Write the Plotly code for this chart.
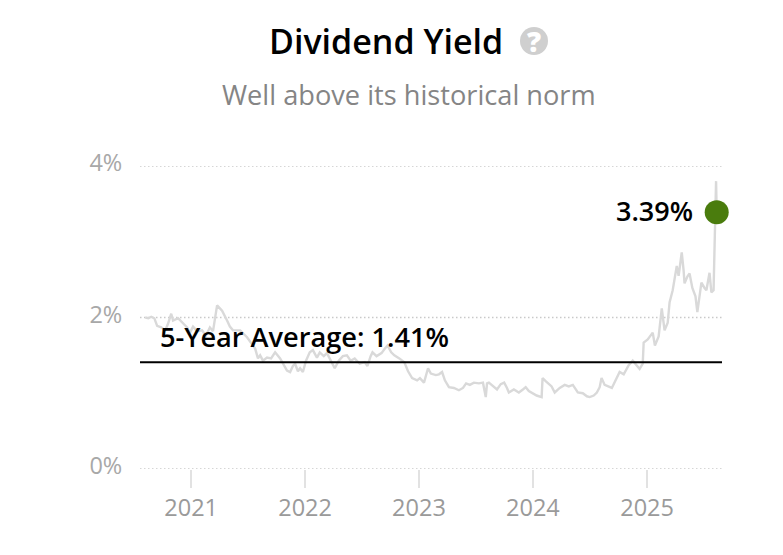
import plotly.graph_objects as go

dates = """2020-08-07 2020-08-17 2020-08-26 2020-09-05 2020-09-14 2020-09-27 2020-10-10 2020-10-19 2020-10-29 2020-11-04
2020-11-20 2020-12-06 2020-12-19 2020-12-28 2021-01-07 2021-01-20 2021-02-05 2021-02-17 2021-03-02 2021-03-12
2021-03-18 2021-03-25 2021-04-03 2021-04-10 2021-04-26 2021-05-05 2021-05-15 2021-06-07 2021-06-29 2021-07-12
2021-07-25 2021-08-03 2021-08-10 2021-08-19 2021-09-01 2021-09-14 2021-09-27 2021-10-13 2021-10-26 2021-11-04
2021-11-14 2021-11-23 2021-11-30 2021-12-09 2021-12-16 2021-12-25 2022-01-04 2022-01-16 2022-01-26 2022-02-08
2022-02-17 2022-03-02 2022-03-12 2022-03-24 2022-04-06 2022-04-19 2022-05-02 2022-05-15 2022-05-27 2022-06-09
2022-06-25 2022-07-11 2022-07-20 2022-07-30 2022-08-05 2022-08-18 2022-09-03 2022-09-12 2022-09-22 2022-10-04
2022-10-14 2022-10-30 2022-11-15 2022-11-27 2022-12-10 2022-12-26 2023-01-04 2023-01-17 2023-01-30 2023-02-08
2023-02-24 2023-03-06 2023-03-16 2023-03-25 2023-04-07 2023-04-23 2023-05-09 2023-05-22 2023-06-01 2023-06-13
2023-06-26 2023-07-12 2023-07-25 2023-08-03 2023-08-07 2023-08-13 2023-08-26 2023-09-08 2023-09-20 2023-10-01
2023-10-10 2023-10-16 2023-11-01 2023-11-17 2023-11-30 2023-12-09 2023-12-19 2024-01-01 2024-01-13 2024-01-29
2024-02-01 2024-02-11 2024-02-17 2024-03-01 2024-03-11 2024-03-27 2024-04-12 2024-04-25 2024-05-08 2024-05-24
2024-06-09 2024-06-22 2024-07-01 2024-07-14 2024-07-24 2024-08-02 2024-08-08 2024-08-18 2024-09-10 2024-09-22
2024-10-05 2024-10-18 2024-11-03 2024-11-16 2024-11-28 2024-12-08 2024-12-18 2024-12-21 2025-01-03 2025-01-19
2025-01-26 2025-02-07 2025-02-17 2025-02-26 2025-03-08 2025-03-14 2025-03-24 2025-03-30 2025-04-06 2025-04-12
2025-04-22 2025-04-28 2025-05-01 2025-05-10 2025-05-17 2025-05-26 2025-06-05 2025-06-11 2025-06-18 2025-06-24
2025-07-04 2025-07-10 2025-07-20 2025-07-26 2025-08-02 2025-08-06 2025-08-10 2025-08-12""".split()

yield_pct = [
    2.00, 1.99, 2.01, 1.99, 1.89, 1.87, 1.83, 1.92, 2.05, 1.96,
    1.99, 1.92, 1.87, 1.80, 1.88, 1.82, 1.83, 1.76, 1.87, 1.82,
    1.96, 2.16, 2.12, 2.09, 1.96, 1.88, 1.83, 1.83, 1.74, 1.67,
    1.59, 1.46, 1.50, 1.43, 1.47, 1.46, 1.54, 1.46, 1.37, 1.30,
    1.28, 1.36, 1.39, 1.29, 1.33, 1.28, 1.43, 1.54, 1.57, 1.47,
    1.54, 1.49, 1.53, 1.43, 1.33, 1.43, 1.49, 1.50, 1.43, 1.46,
    1.39, 1.41, 1.36, 1.49, 1.54, 1.49, 1.53, 1.58, 1.63, 1.54,
    1.50, 1.46, 1.41, 1.29, 1.20, 1.17, 1.20, 1.14, 1.33, 1.26,
    1.24, 1.25, 1.28, 1.17, 1.08, 1.07, 1.04, 1.07, 1.13, 1.11,
    1.14, 1.13, 1.14, 0.95, 1.13, 1.14, 1.09, 1.05, 1.12, 1.14,
    1.07, 1.01, 1.05, 1.01, 1.05, 1.08, 1.03, 1.00, 0.97, 0.95,
    1.20, 1.16, 1.14, 1.09, 1.01, 1.07, 1.11, 1.09, 1.11, 1.01,
    1.00, 0.96, 0.95, 0.97, 1.01, 1.08, 1.20, 1.11, 1.07, 1.17,
    1.28, 1.25, 1.37, 1.43, 1.37, 1.32, 1.39, 1.67, 1.71, 1.80,
    1.63, 1.75, 2.12, 1.83, 1.93, 2.20, 2.36, 2.49, 2.68, 2.55,
    2.86, 2.62, 2.45, 2.54, 2.58, 2.39, 2.28, 2.07, 2.26, 2.46,
    2.39, 2.36, 2.59, 2.33, 2.36, 3.01, 3.80, 3.39,
]

average_value = 1.41
average_span = ["2020-07-21", "2025-08-29"]
y_ticks = [0, 2, 4]
y_tick_labels = ["0%", "2%", "4%"]
x_ticks = ["2021-01-01", "2022-01-01", "2023-01-01", "2024-01-01", "2025-01-01"]
x_tick_labels = ["2021", "2022", "2023", "2024", "2025"]

FONT = "Open Sans"
# The page body adds an 8px margin, so the figure is 8px smaller on each leading edge.
W, H = 775, 547
LEFT, TOP, PW, PH = 132, 158, 582, 303

fig = go.Figure()
fig.add_trace(go.Scatter(x=dates, y=yield_pct, mode="lines",
                         line=dict(color="#d9d9d9", width=2.4), hoverinfo="skip"))
fig.add_trace(go.Scatter(x=average_span, y=[average_value] * 2, mode="lines",
                         line=dict(color="#000000", width=2), hoverinfo="skip"))
fig.add_trace(go.Scatter(x=[dates[-1]], y=[yield_pct[-1]], mode="markers",
                         marker=dict(color="#4a7c0d", size=24), cliponaxis=False, hoverinfo="skip"))

fig.add_annotation(x=dates[-1], y=yield_pct[-1], text=f"{yield_pct[-1]:.2f}%", showarrow=False,
                   xanchor="right", xshift=-22, yshift=2, font=dict(family=FONT, size=27, color="#000", weight=600))
fig.add_annotation(x=18 / PW, xref="paper", y=average_value, text=f"5-Year Average: {average_value:.2f}%",
                   showarrow=False, xanchor="left", yanchor="bottom", yshift=5,
                   font=dict(family=FONT, size=27.2, color="#000", weight=600))

for tick in y_ticks:
    fig.add_shape(type="line", xref="paper", yref="y", x0=0, x1=1, y0=tick, y1=tick, layer="below",
                  line=dict(color="#c9c9c9", width=1.5, dash="1.5px,2.5px"))

fig.update_layout(
    width=W, height=H, showlegend=False,
    margin=dict(l=LEFT, r=W - LEFT - PW, t=TOP, b=H - TOP - PH),
    paper_bgcolor="#ffffff", plot_bgcolor="#ffffff",
    font=dict(family=FONT),
    xaxis=dict(type="date", range=average_span, tickvals=x_ticks, ticktext=x_tick_labels,
               showgrid=False, zeroline=False, showline=False, ticks="outside", ticklen=18, tickwidth=2,
               tickcolor="#e2e2e2", tickfont=dict(family=FONT, size=23.5, color="#9a9a9a")),
    yaxis=dict(range=[0, 4], tickvals=y_ticks, ticktext=y_tick_labels, showgrid=False,
               zeroline=False, showline=False, ticks="outside", ticklabelshift=-3,
               ticklen=12, tickcolor="rgba(0,0,0,0)", tickfont=dict(family=FONT, size=23.5, color="#a8a8a8")),
)

for text, cx, cy, size, color, weight in [
    ("Dividend Yield", 378, 33, 34, "#000000", 600),
    ("Well above its historical norm", 401, 86.5, 27.2, "#858585", 400),
]:
    fig.add_annotation(xref="paper", yref="paper", x=(cx - LEFT) / PW, y=(TOP + PH - cy) / PH,
                       text=text, showarrow=False, xanchor="center", yanchor="middle",
                       font=dict(family=FONT, size=size, color=color, weight=weight))
fig.add_shape(type="circle", xref="paper", yref="paper", layer="below", line_width=0, fillcolor="#cfcfcf",
              x0=(512 - LEFT) / PW, x1=(540 - LEFT) / PW, y0=(TOP + PH - 47) / PH, y1=(TOP + PH - 19) / PH)
fig.add_annotation(xref="paper", yref="paper", x=(526 - LEFT) / PW, y=(TOP + PH - 33) / PH, text="?",
                   xanchor="center", yanchor="middle", showarrow=False,
                   font=dict(family=FONT, size=28, color="#ffffff", weight=800))

fig.write_html("out.html")
